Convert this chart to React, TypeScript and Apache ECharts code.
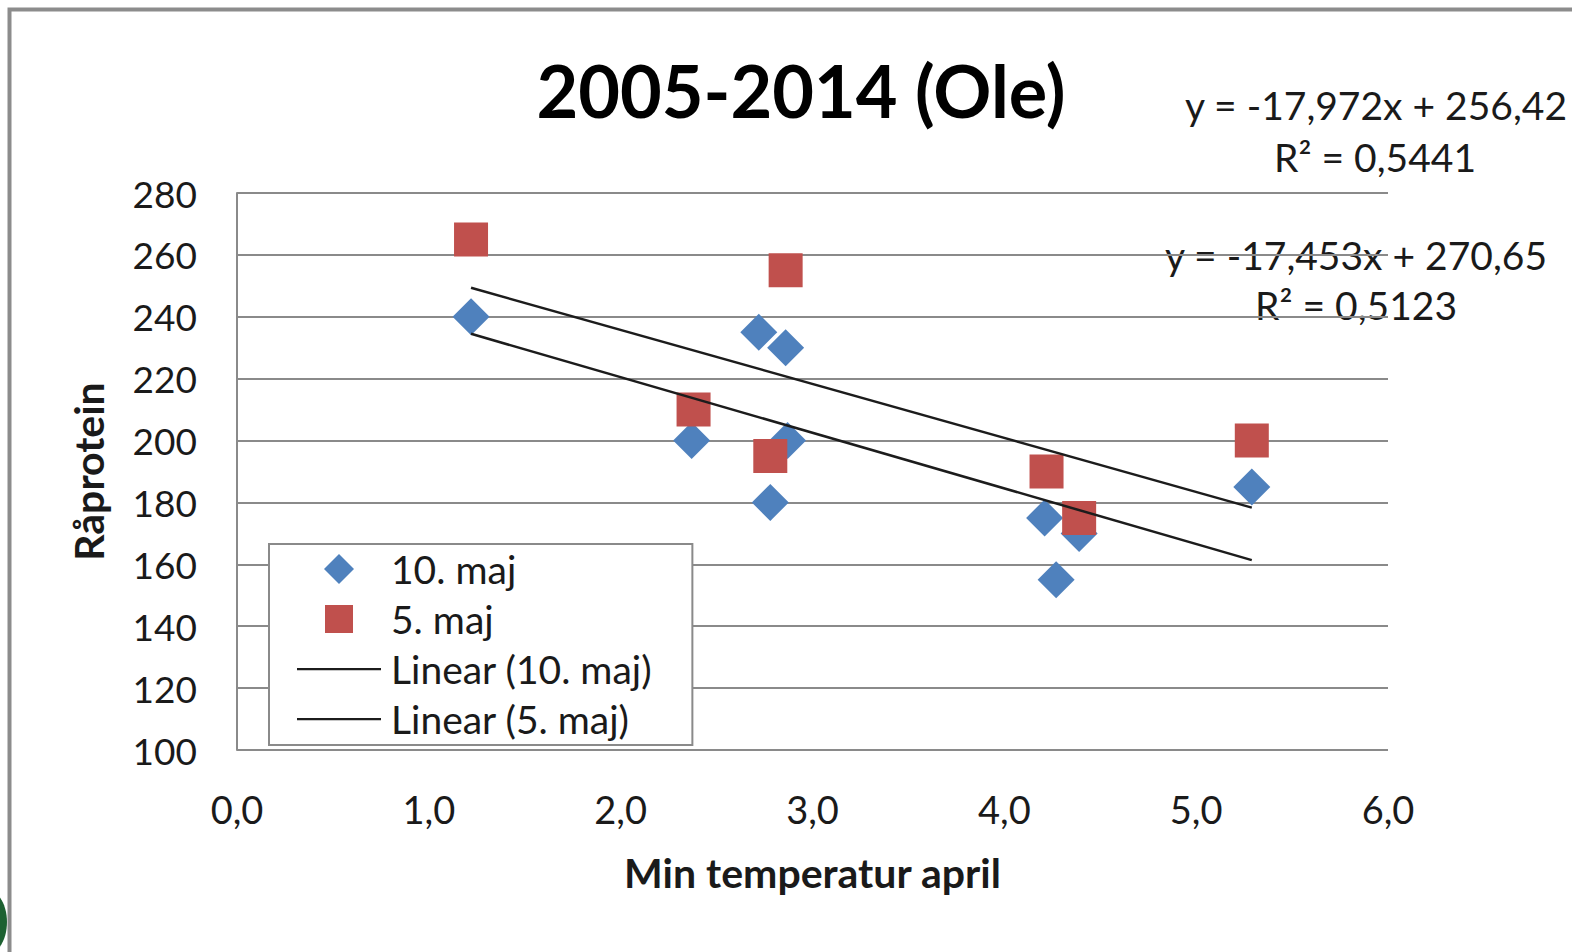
import React, { useEffect, useRef } from "react";
import * as echarts from "echarts";

const TITLE = "2005-2014 (Ole)";
const X_NAME = "Min temperatur april";
const Y_NAME = "Råprotein";

const SERIES_A = "10. maj";
const SERIES_B = "5. maj";
const TREND_A = "Linear (10. maj)";
const TREND_B = "Linear (5. maj)";

const xA = [1.22, 2.37, 2.72, 2.86, 2.78, 2.87, 4.21, 4.27, 4.39, 5.29];
const yA = [240, 200, 235, 230, 180, 200, 175, 155, 170, 185];
const xB = [1.22, 2.38, 2.86, 2.78, 4.22, 4.39, 5.29];
const yB = [265, 210, 255, 195, 190, 175, 200];

// trendline coefficients as printed in the chart
const slopeA = -17.972;
const interceptA = 256.42;
const r2A = "0,5441";
const slopeB = -17.453;
const interceptB = 270.65;
const r2B = "0,5123";

const X_MIN = 0, X_MAX = 6, X_STEP = 1;
const Y_MIN = 100, Y_MAX = 280, Y_STEP = 20;

const FONT = "Lato";
const TEXT = "#1a1a1a";
const GRID = "#8a8a8a";
const BLUE = "#4F81BD";
const RED = "#C0504D";
const LINE = "#1c1c1c";

const ICON_DIAMOND = "path://M0,0 M84,30 M42,0 L57,15 L42,30 L27,15 Z";
const ICON_SQUARE = "path://M0,0 M84,30 M28,1 L56,1 L56,29 L28,29 Z";
const ICON_LINE = "path://M0,0 M84,30 M0,14 L84,14 L84,16.2 L0,16.2 Z";

function fmtNum(v: number, d: number) {
  return v.toFixed(d).replace(".", ",");
}
function eq(slope: number, icpt: number) {
  return `y = ${fmtNum(slope, 3)}x + ${fmtNum(icpt, 2)}`;
}
function trend(xs: number[], a: number, b: number) {
  const lo = Math.min(...xs);
  const hi = Math.max(...xs);
  return [
    [lo, a * lo + b],
    [hi, a * hi + b],
  ];
}

export default function App() {
  const ref = useRef<HTMLDivElement>(null);
  useEffect(() => {
    if (!ref.current) return;
    const chart = echarts.init(ref.current, null, { renderer: "svg" });
    const eqStyle = { fontFamily: FONT, fontSize: 39, fill: TEXT, textAlign: "center", textVerticalAlign: "middle" };
    chart.setOption({
      animation: false,
      backgroundColor: "#ffffff",
      textStyle: { fontFamily: FONT },
      title: {
        text: TITLE,
        left: 796,
        top: 49,
        textAlign: "center",
        textStyle: { fontFamily: FONT, fontSize: 72, fontWeight: "bold", color: "#000" },
      },
      grid: { left: 237, right: 184, top: 193, bottom: 202, containLabel: false },
      xAxis: {
        type: "value",
        min: X_MIN,
        max: X_MAX,
        interval: X_STEP,
        name: X_NAME,
        nameLocation: "middle",
        nameGap: 102,
        nameTextStyle: { fontFamily: FONT, fontSize: 41, fontWeight: "bold", color: TEXT },
        axisLine: { show: false },
        axisTick: { show: false },
        splitLine: { show: false },
        axisLabel: {
          fontFamily: FONT,
          fontSize: 38,
          color: TEXT,
          margin: 40,
          formatter: (v: number) => fmtNum(v, 1),
        },
      },
      yAxis: {
        type: "value",
        min: Y_MIN,
        max: Y_MAX,
        interval: Y_STEP,
        name: Y_NAME,
        nameLocation: "middle",
        nameGap: 128,
        nameTextStyle: { fontFamily: FONT, fontSize: 41, fontWeight: "bold", color: TEXT },
        axisLine: { show: true, lineStyle: { color: GRID, width: 2 } },
        axisTick: { show: false },
        splitLine: { show: true, lineStyle: { color: GRID, width: 2 } },
        axisLabel: { fontFamily: FONT, fontSize: 37, color: TEXT, margin: 40 },
      },
      legend: {
        orient: "vertical",
        left: 269,
        top: 544,
        padding: [5, 40, 6, 28],
        itemWidth: 84,
        itemHeight: 30,
        itemGap: 10,
        borderColor: GRID,
        borderWidth: 2,
        backgroundColor: "#ffffff",
        textStyle: { fontFamily: FONT, fontSize: 39, color: TEXT, lineHeight: 40, padding: [0, 0, 0, 5] },
        data: [
          { name: SERIES_A, icon: ICON_DIAMOND },
          { name: SERIES_B, icon: ICON_SQUARE },
          { name: TREND_A, icon: ICON_LINE },
          { name: TREND_B, icon: ICON_LINE },
        ],
      },
      series: [
        {
          name: SERIES_A,
          type: "scatter",
          symbol: "diamond",
          symbolSize: 37,
          itemStyle: { color: BLUE, opacity: 1 },
          data: xA.map((x, i) => [x, yA[i]]),
        },
        {
          name: SERIES_B,
          type: "scatter",
          symbol: "rect",
          symbolSize: 34,
          itemStyle: { color: RED, opacity: 1 },
          data: xB.map((x, i) => [x, yB[i]]),
        },
        {
          name: TREND_A,
          type: "line",
          symbol: "none",
          lineStyle: { color: LINE, width: 2.5 },
          itemStyle: { color: LINE },
          data: trend(xA, slopeA, interceptA),
        },
        {
          name: TREND_B,
          type: "line",
          symbol: "none",
          lineStyle: { color: LINE, width: 2.5 },
          itemStyle: { color: LINE },
          data: trend(xB, slopeB, interceptB),
        },
      ],
      graphic: [
        {
          type: "polyline",
          shape: { points: [[9.5, 952], [9.5, 9.5], [1572, 9.5]] },
          style: { stroke: "#8c8c8c", lineWidth: 4, fill: null },
          silent: true,
        },
        { type: "text", x: 1376, y: 105, style: { ...eqStyle, text: eq(slopeA, interceptA) } },
        { type: "text", x: 1375, y: 157, style: { ...eqStyle, text: `R² = ${r2A}` } },
        { type: "text", x: 1356, y: 255, style: { ...eqStyle, text: eq(slopeB, interceptB) } },
        { type: "text", x: 1356, y: 305, style: { ...eqStyle, text: `R² = ${r2B}` } },
        {
          type: "ellipse",
          shape: { cx: -14, cy: 922, rx: 21, ry: 33 },
          style: { fill: "#1d6131" },
          silent: true,
        },
      ],
    });
    return () => chart.dispose();
  }, []);
  return <div ref={ref} style={{ position: "fixed", left: 0, top: 0, width: 1572, height: 952 }} />;
}
